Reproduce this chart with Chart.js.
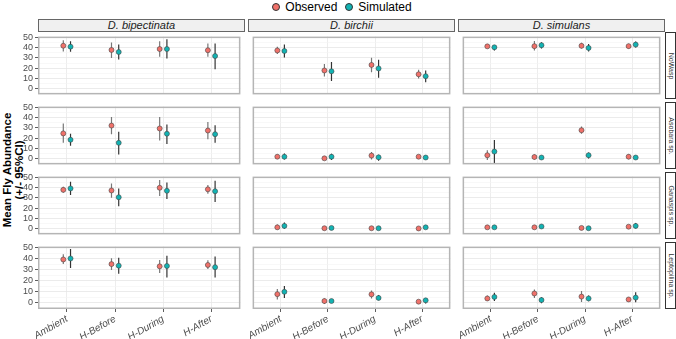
<!DOCTYPE html>
<html>
<head>
<meta charset="utf-8">
<script src="https://cdn.jsdelivr.net/npm/chart.js@4/dist/chart.umd.min.js"></script>
<style>
    body { margin: 0; width: 676px; height: 339px; position: relative; background: #fff; overflow: hidden;
           font-family: 'Liberation Sans', Arial, sans-serif; }
    canvas { position: absolute; }
    .legenda { position: absolute; top: 0; left: 0; width: 676px; text-align: center; font-size: 12px; color: #000; line-height: 14px; }
    .legenda span.ponto { display: inline-block; width: 6px; height: 6px; border-radius: 50%; border: 0.6px solid #333; margin: 0 5px 0 8px; vertical-align: 0px; }
    .faixaTopo { position: absolute; box-sizing: border-box; border: 1px solid #666; background: #f0f0f0; color: #222;
                 font-size: 11px; font-style: italic; text-align: center; line-height: 11px; }
    .faixaLado { position: absolute; box-sizing: border-box; border: 1px solid #333; background: #fff; }
    .faixaLado div { position: absolute; left: 50%; top: 50%; transform: translate(-50%, -50%) rotate(90deg);
                     font-size: 7px; color: #333; white-space: nowrap; }
    .tituloY { position: absolute; left: 13px; top: 170px; transform: translate(-50%, -50%) rotate(-90deg);
               font-size: 11.5px; font-weight: bold; text-align: center; white-space: nowrap; line-height: 12px; }
</style>
</head>
<body>
<div class="legenda">
    <span class="ponto" style="background:#F0716A"></span>Observed<span class="ponto" style="background:#12B3B3"></span>Simulated
</div>
<div class="tituloY">Mean Fly Abundance<br>(+/- 95%CI)</div>
<script>
// Dados
const tratamentos = ['Ambient', 'H-Before', 'H-During', 'H-After'];
const especies = ['D. bipectinata', 'D. birchii', 'D. simulans'];
const parasitoides = ['NoWasp', 'Asobara sp.', 'Ganaspis sp.', 'Leptopilina sp.'];
const ticksY = [0, 10, 20, 30, 40, 50];
const ticksYMenores = [5, 15, 25, 35, 45];

// [media, inferior, superior] por tratamento; uma linha por parasitoide
const bipectinataObs = [
    [[41.9, 36.4, 47.3], [37.8, 29.9, 45.0], [38.7, 31.1, 46.2], [37.5, 31.1, 44.2]],
    [[24.7, 15.5, 34.3], [32.3, 23.9, 40.7], [29.5, 17.7, 40.7], [27.5, 18.9, 35.7]],
    [[37.9, 35.0, 40.8], [37.3, 30.2, 44.2], [39.9, 31.9, 47.4], [38.4, 34.1, 42.5]],
    [[39.2, 35.0, 43.8], [35.0, 29.7, 40.4], [33.0, 26.9, 38.7], [34.2, 30.5, 38.4]]
];
const bipectinataSim = [
    [[41.0, 36.1, 46.2], [35.8, 28.6, 43.1], [38.7, 29.4, 48.2], [31.9, 19.0, 44.0]],
    [[18.5, 12.6, 24.4], [15.5, 4.2, 26.4], [24.4, 14.3, 33.4], [23.9, 15.5, 32.6]],
    [[39.3, 32.8, 45.9], [30.7, 22.0, 39.3], [37.0, 29.0, 45.0], [36.5, 26.1, 46.8]],
    [[40.1, 31.6, 48.6], [33.6, 26.3, 40.7], [33.3, 22.9, 42.6], [32.2, 22.9, 41.8]]
];
const birchiiObs = [
    [[37.3, 33.9, 41.0], [17.8, 11.9, 24.0], [23.2, 16.1, 30.3], [14.1, 9.9, 18.4]],
    [[2.0, -0.3, 4.2], [0.4, 0.0, 0.9], [3.1, -0.8, 6.5], [2.0, 0.6, 3.5]],
    [[1.4, -0.8, 4.2], [0.5, 0.0, 1.0], [0.5, 0.0, 1.0], [0.3, 0.0, 0.7]],
    [[7.9, 3.1, 12.5], [1.7, -1.1, 4.0], [7.7, 4.0, 11.1], [1.1, 0.1, 2.1]]
];
const birchiiSim = [
    [[36.8, 30.5, 43.0], [17.0, 7.6, 26.0], [19.8, 10.8, 28.3], [12.2, 6.3, 17.8]],
    [[2.0, -0.8, 5.0], [2.0, -1.1, 4.8], [1.4, -1.9, 3.9], [1.2, -0.9, 3.2]],
    [[2.8, 0.0, 6.1], [0.8, -0.5, 2.1], [0.5, -0.3, 1.3], [1.4, -0.1, 2.9]],
    [[10.0, 4.5, 15.3], [1.7, 0.7, 2.7], [4.5, 2.3, 7.1], [2.3, -0.6, 4.5]]
];
const simulansObs = [
    [[41.3, 39.5, 42.4], [41.5, 37.3, 46.4], [41.8, 39.3, 44.7], [41.5, 39.3, 43.8]],
    [[3.4, -1.3, 8.2], [1.7, -0.8, 4.2], [27.8, 24.4, 31.5], [2.0, -0.5, 4.5]],
    [[1.4, 0.4, 2.4], [1.4, -0.6, 3.4], [0.8, 0.2, 1.4], [2.0, 0.5, 3.5]],
    [[4.0, 1.7, 6.6], [8.5, 4.5, 12.2], [5.7, 0.9, 10.8], [3.1, 1.1, 5.1]]
];
const simulansSim = [
    [[40.4, 37.3, 42.7], [42.4, 39.3, 45.2], [39.8, 36.2, 43.5], [43.0, 40.2, 46.1]],
    [[7.0, -4.2, 18.3], [1.2, -0.3, 2.7], [3.4, 0.3, 6.2], [1.2, -0.3, 2.7]],
    [[1.4, 0.4, 2.4], [2.2, 0.7, 3.7], [0.5, 0.0, 1.0], [2.8, 0.3, 5.5]],
    [[5.4, 1.7, 9.1], [2.6, -0.3, 5.1], [4.0, 1.4, 6.6], [4.8, 0.6, 9.6]]
];
const observados = [bipectinataObs, birchiiObs, simulansObs];
const simulados = [bipectinataSim, birchiiSim, simulansSim];

// Layout
const COL_LEFT = [38, 248, 458];
const ROW_TOP = [32, 102, 172, 242];
const PANEL_W = 207;
const PANEL_H = 67;
const Y_AXIS_W = 22;
const X_AXIS_H = 30;
const DESLOC = 0.075;

const COR_OBS = '#F0716A';
const COR_SIM = '#12B3B3';

// Borda do painel
const bordaPainel = {
    id: 'bordaPainel',
    afterDraw(chart) {
        const a = chart.chartArea;
        const ctx = chart.ctx;
        ctx.save();
        ctx.strokeStyle = '#b5b5b5';
        ctx.lineWidth = 1.5;
        ctx.strokeRect(a.left + 0.75, a.top + 0.75, a.right - a.left - 1.5, a.bottom - a.top - 1.5);
        ctx.restore();
    }
};

function pontos(serie, deslocamento) {
    return serie.map((v, i) => ({ x: i + 1 + deslocamento, y: v[0] }));
}

function barrasErro(serie, deslocamento) {
    const dados = [];
    serie.forEach((v, i) => {
        const x = i + 1 + deslocamento;
        dados.push({ x, y: v[1] }, { x, y: v[2] }, { x, y: null });
    });
    return dados;
}

function criarPainel(col, row) {
    const extraL = col === 0 ? Y_AXIS_W : 0;
    const extraB = row === 3 ? X_AXIS_H : 0;
    const canvas = document.createElement('canvas');
    canvas.width = PANEL_W + extraL;
    canvas.height = PANEL_H + extraB;
    canvas.style.left = (COL_LEFT[col] - extraL) + 'px';
    canvas.style.top = ROW_TOP[row] + 'px';
    document.body.appendChild(canvas);

    const obs = observados[col][row];
    const sim = simulados[col][row];

    new Chart(canvas.getContext('2d'), {
        data: {
            datasets: [
                { type: 'line', data: barrasErro(obs, -DESLOC), borderColor: '#777', borderWidth: 1.2,
                  pointRadius: 0, spanGaps: false, order: 2 },
                { type: 'line', data: barrasErro(sim, DESLOC), borderColor: '#333', borderWidth: 1.2,
                  pointRadius: 0, spanGaps: false, order: 2 },
                { type: 'scatter', data: pontos(obs, -DESLOC), backgroundColor: COR_OBS, borderColor: '#444',
                  borderWidth: 0.6, pointRadius: 2.5, order: 1 },
                { type: 'scatter', data: pontos(sim, DESLOC), backgroundColor: COR_SIM, borderColor: '#444',
                  borderWidth: 0.6, pointRadius: 2.5, order: 1 }
            ]
        },
        options: {
            responsive: false,
            animation: false,
            layout: { padding: 0 },
            plugins: { legend: { display: false }, tooltip: { enabled: false } },
            scales: {
                x: {
                    type: 'linear',
                    min: 0.4,
                    max: 4.6,
                    border: { display: false },
                    afterBuildTicks: s => { s.ticks = tratamentos.map((t, i) => ({ value: i + 1 })); },
                    afterFit: s => { s.height = extraB; s.paddingLeft = 0; s.paddingRight = 0; },
                    grid: { color: '#e8e8e8', lineWidth: 0.8, drawTicks: row === 3, tickLength: 3, tickColor: '#333' },
                    ticks: {
                        display: row === 3,
                        autoSkip: false,
                        minRotation: 30,
                        maxRotation: 30,
                        padding: 1,
                        color: '#4d4d4d',
                        font: { size: 10, style: 'italic', family: "'Liberation Sans', Arial, sans-serif" },
                        callback: (v, i) => tratamentos[i]
                    }
                },
                y: {
                    type: 'linear',
                    min: -5.5,
                    max: 50.8,
                    border: { display: false },
                    afterBuildTicks: s => {
                        s.ticks = ticksY.concat(ticksYMenores).sort((a, b) => a - b).map(v => ({ value: v }));
                    },
                    afterFit: s => { s.width = extraL; s.paddingTop = 0; s.paddingBottom = 0; },
                    grid: {
                        color: c => ticksY.includes(c.tick.value) ? '#e6e6e6' : '#f3f3f3',
                        lineWidth: c => ticksY.includes(c.tick.value) ? 0.8 : 0.6,
                        drawTicks: col === 0,
                        tickLength: 3,
                        tickColor: c => ticksY.includes(c.tick.value) ? '#333' : 'transparent'
                    },
                    ticks: {
                        display: col === 0,
                        autoSkip: false,
                        padding: 2,
                        color: '#4d4d4d',
                        font: { size: 9, family: "'Liberation Sans', Arial, sans-serif" },
                        callback: v => ticksY.includes(v) ? v : ''
                    }
                }
            }
        },
        plugins: [bordaPainel]
    });
}

function criarFaixas() {
    especies.forEach((nome, col) => {
        const faixa = document.createElement('div');
        faixa.className = 'faixaTopo';
        faixa.style.left = COL_LEFT[col] + 'px';
        faixa.style.top = '19px';
        faixa.style.width = PANEL_W + 'px';
        faixa.style.height = '13px';
        faixa.textContent = nome;
        document.body.appendChild(faixa);
    });
    parasitoides.forEach((nome, row) => {
        const faixa = document.createElement('div');
        faixa.className = 'faixaLado';
        faixa.style.left = (COL_LEFT[2] + PANEL_W) + 'px';
        faixa.style.top = ROW_TOP[row] + 'px';
        faixa.style.width = '11px';
        faixa.style.height = PANEL_H + 'px';
        faixa.innerHTML = `<div>${nome}</div>`;
        document.body.appendChild(faixa);
    });
}

criarFaixas();
for (let row = 0; row < 4; row++) {
    for (let col = 0; col < 3; col++) {
        criarPainel(col, row);
    }
}
</script>
</body>
</html>
